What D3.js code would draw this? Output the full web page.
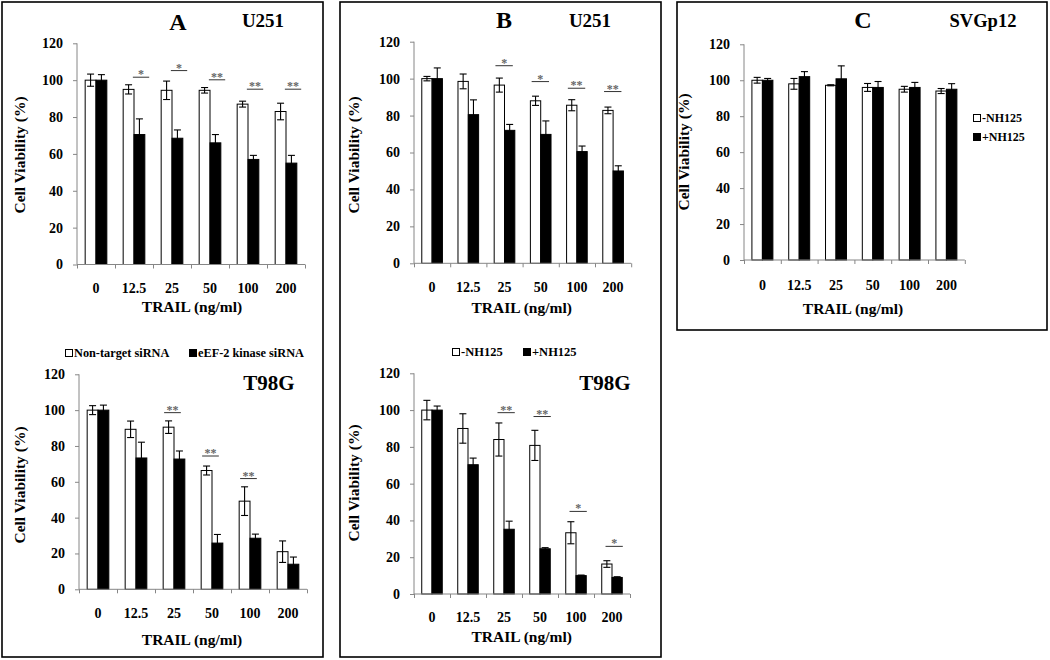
<!DOCTYPE html>
<html>
<head>
<meta charset="utf-8">
<script src="https://cdn.jsdelivr.net/npm/d3@7"></script>
<style>
  html, body { margin: 0; padding: 0; background: #fff; }
  svg { display: block; }
  text { font-family: "Liberation Serif", "Times New Roman", serif; font-weight: bold; }
</style>
</head>
<body>
<svg id="chart" width="1050" height="660"></svg>
<script>
// ---------------- DATA ----------------
const categories = ["0", "12.5", "25", "50", "100", "200"];
const yTickValues = [0, 20, 40, 60, 80, 100, 120];
const xAxisTitle = "TRAIL (ng/ml)";
const yAxisTitle = "Cell Viability (%)";

// Panel A, U251 (siRNA)
const aU251Ctrl    = [100, 95, 94.5, 94.5, 87, 83];
const aU251CtrlErr = [3.3, 2.5, 5, 1.5, 1.6, 4.5];
const aU251Kd      = [100, 70.5, 68.5, 66, 57, 55];
const aU251KdErr   = [3, 8.5, 4.5, 4.5, 2.2, 4.2];
const aU251SigCat  = ["12.5", "25", "50", "100", "200"];
const aU251SigY    = [101.6, 105.2, 100.2, 95.1, 95.1];
const aU251SigText = ["*", "*", "**", "**", "**"];

// Panel A, T98G (siRNA)
const aT98GCtrl    = [100, 89.3, 90.5, 66.3, 49.2, 21];
const aT98GCtrlErr = [2.5, 4.6, 3.5, 2.5, 8, 6];
const aT98GKd      = [100, 73.3, 72.7, 25.8, 28.5, 14];
const aT98GKdErr   = [2.8, 8.8, 4.5, 4.8, 2.3, 4];
const aT98GSigCat  = ["25", "50", "100"];
const aT98GSigY    = [98.6, 74.4, 61.8];
const aT98GSigText = ["**", "**", "**"];
const siRnaLegend  = ["Non-target siRNA", "eEF-2 kinase  siRNA"];

// Panel B, U251 (NH125)
const bU251Ctrl    = [100, 98.5, 96.5, 88, 85.6, 82.8];
const bU251CtrlErr = [1.2, 4, 3.8, 2.5, 3, 1.8];
const bU251Kd      = [100, 80.5, 72, 69.8, 60.5, 50];
const bU251KdErr   = [5.8, 8, 3.2, 7.3, 3, 2.8];
const bU251SigCat  = ["25", "50", "100", "200"];
const bU251SigY    = [107, 98.4, 94.8, 93];
const bU251SigText = ["*", "*", "**", "**"];

// Panel B, T98G (NH125)
const bT98GCtrl    = [100, 90, 84, 80.8, 33.3, 16.3];
const bT98GCtrlErr = [5.3, 8, 9, 8.2, 6, 1.8];
const bT98GKd      = [100, 70.3, 35.2, 24.6, 10, 9];
const bT98GKdErr   = [2.2, 3.6, 4.4, 0.6, 0.3, 0.4];
const bT98GSigCat  = ["25", "50", "100", "200"];
const bT98GSigY    = [98.6, 96.5, 44.9, 25.9];
const bT98GSigText = ["**", "**", "*", "*"];
const nh125Legend  = ["-NH125", "+NH125"];

// Panel C, SVGp12 (NH125)
const cSvgCtrl    = [100, 98, 97.2, 96, 95, 94];
const cSvgCtrlErr = [1.6, 3, 0.3, 2.2, 1.6, 1.4];
const cSvgKd      = [100, 102, 100.8, 96, 96, 95];
const cSvgKdErr   = [1, 2.8, 7.2, 3.3, 2.8, 3.1];

// ---------------- LAYOUT ----------------
const svg = d3.select("#chart");

const frames = [
  {x: 2, y: 2, w: 321, h: 655},
  {x: 340, y: 2, w: 321, h: 655},
  {x: 677, y: 2, w: 370, h: 328}
];
svg.selectAll("rect.frame").data(frames).join("rect")
  .attr("class", "frame")
  .attr("x", d => d.x).attr("y", d => d.y)
  .attr("width", d => d.w).attr("height", d => d.h)
  .attr("fill", "none").attr("stroke", "#000").attr("stroke-width", 1.6);

const charts = [
  { x0: 77, step: 38, yBot: 264.5, yTop: 43.3, ctrl: aU251Ctrl, ctrlErr: aU251CtrlErr, kd: aU251Kd, kdErr: aU251KdErr,
    sigCat: aU251SigCat, sigY: aU251SigY, sigText: aU251SigText, sigL: -0.03, sigR: 0.4,
    tickY: 293, titleX: 192, titleY: 312, yTitleX: 19.5, yTitleY: 155,
    labels: [{t: "A", x: 178, y: 30, s: 24}, {t: "U251", x: 263, y: 27, s: 19}] },
  { x0: 79, step: 38, yBot: 589.3, yTop: 374.3, ctrl: aT98GCtrl, ctrlErr: aT98GCtrlErr, kd: aT98GKd, kdErr: aT98GKdErr,
    sigCat: aT98GSigCat, sigY: aT98GSigY, sigText: aT98GSigText, sigL: -0.26, sigR: 0.18,
    tickY: 618, titleX: 192, titleY: 645, yTitleX: 19.5, yTitleY: 485,
    labels: [{t: "T98G", x: 269, y: 390, s: 21}],
    legend: {names: siRnaLegend, items: [{x: 65, y: 353}, {x: 189, y: 353}], size: 12.3} },
  { x0: 414, step: 36.2, yBot: 263.3, yTop: 41.7, ctrl: bU251Ctrl, ctrlErr: bU251CtrlErr, kd: bU251Kd, kdErr: bU251KdErr,
    sigCat: bU251SigCat, sigY: bU251SigY, sigText: bU251SigText, sigL: -0.25, sigR: 0.23,
    tickY: 291.5, titleX: 521.7, titleY: 313, yTitleX: 353.5, yTitleY: 155,
    labels: [{t: "B", x: 504, y: 28, s: 24}, {t: "U251", x: 590, y: 27, s: 19}] },
  { x0: 414, step: 36, yBot: 594, yTop: 373.3, ctrl: bT98GCtrl, ctrlErr: bT98GCtrlErr, kd: bT98GKd, kdErr: bT98GKdErr,
    sigCat: bT98GSigCat, sigY: bT98GSigY, sigText: bT98GSigText, sigL: -0.18, sigR: 0.3,
    tickY: 621.5, titleX: 521.7, titleY: 642, yTitleX: 353.5, yTitleY: 483,
    labels: [{t: "T98G", x: 605, y: 390, s: 21}],
    legend: {names: nh125Legend, items: [{x: 452, y: 352}, {x: 523, y: 352}], size: 12.5} },
  { x0: 744, step: 36.8, yBot: 260, yTop: 44.3, ctrl: cSvgCtrl, ctrlErr: cSvgCtrlErr, kd: cSvgKd, kdErr: cSvgKdErr,
    sigCat: [], sigY: [], sigText: [], sigL: 0, sigR: 0,
    tickY: 290, titleX: 853, titleY: 314, yTitleX: 683.5, yTitleY: 152,
    labels: [{t: "C", x: 863, y: 28, s: 24}, {t: "SVGp12", x: 983, y: 27, s: 18.5}],
    legend: {names: nh125Legend, items: [{x: 973, y: 118}, {x: 973, y: 137}], size: 12} }
];

const axisColor = "#868686";
const barFrac = 0.285;

charts.forEach(c => {
  const g = svg.append("g");
  const x1 = c.x0 + c.step * categories.length;
  const x = d3.scaleBand().domain(categories).range([c.x0, x1]).padding(0);
  const y = d3.scaleLinear().domain([0, 120]).range([c.yBot, c.yTop]);
  const bw = x.bandwidth() * barFrac;
  const cx = cat => x(cat) + x.bandwidth() / 2;

  const rows = categories.map((cat, i) => ({cat, ctrl: c.ctrl[i], ctrlErr: c.ctrlErr[i], kd: c.kd[i], kdErr: c.kdErr[i]}));
  g.selectAll("rect.ctrl").data(rows).join("rect")
    .attr("x", d => cx(d.cat) - bw).attr("y", d => y(d.ctrl))
    .attr("width", bw).attr("height", d => y(0) - y(d.ctrl))
    .attr("fill", "#fff").attr("stroke", "#000").attr("stroke-width", 1);
  g.selectAll("rect.kd").data(rows).join("rect")
    .attr("x", d => cx(d.cat)).attr("y", d => y(d.kd))
    .attr("width", bw).attr("height", d => y(0) - y(d.kd))
    .attr("fill", "#000").attr("stroke", "#000").attr("stroke-width", 1);

  const errs = [];
  rows.forEach(d => {
    errs.push({xc: cx(d.cat) - bw / 2, v: d.ctrl, e: d.ctrlErr});
    errs.push({xc: cx(d.cat) + bw / 2, v: d.kd, e: d.kdErr});
  });
  const cap = 3.5;
  errs.forEach(d => {
    const eg = g.append("g").attr("stroke", "#000").attr("stroke-width", 1.1);
    eg.append("line").attr("x1", d.xc).attr("x2", d.xc).attr("y1", y(d.v + d.e)).attr("y2", y(d.v - d.e));
    eg.append("line").attr("x1", d.xc - cap).attr("x2", d.xc + cap).attr("y1", y(d.v + d.e)).attr("y2", y(d.v + d.e));
    eg.append("line").attr("x1", d.xc - cap).attr("x2", d.xc + cap).attr("y1", y(d.v - d.e)).attr("y2", y(d.v - d.e));
  });

  const yAxis = d3.axisLeft(y).tickValues(yTickValues).tickSize(4).tickPadding(10);
  const ya = g.append("g").attr("transform", `translate(${c.x0},0)`).call(yAxis);
  ya.select(".domain").attr("stroke", axisColor).attr("d", `M-0,${c.yTop}V${c.yBot}`);
  ya.selectAll(".tick line").attr("stroke", axisColor);
  ya.selectAll(".tick text").attr("fill", "#000").style("font-size", "14px");

  const xb = d3.scaleLinear().domain([0, categories.length]).range([c.x0, x1]);
  const xAxis = d3.axisBottom(xb).tickValues(d3.range(categories.length + 1)).tickSize(4).tickFormat("");
  const xa = g.append("g").attr("transform", `translate(0,${c.yBot})`).call(xAxis);
  xa.select(".domain").attr("stroke", axisColor).attr("d", `M${c.x0},0H${x1}`);
  xa.selectAll(".tick line").attr("stroke", axisColor);

  g.selectAll("text.xl").data(categories).join("text")
    .attr("x", d => cx(d)).attr("y", c.tickY)
    .attr("text-anchor", "middle").style("font-size", "14px").text(d => d);

  g.append("text").attr("x", c.titleX).attr("y", c.titleY)
    .attr("text-anchor", "middle").style("font-size", "15.5px").text(xAxisTitle);
  g.append("text")
    .attr("transform", `translate(${c.yTitleX},${c.yTitleY}) rotate(-90)`)
    .attr("text-anchor", "middle").attr("dominant-baseline", "central")
    .style("font-size", "15.5px").text(yAxisTitle);

  c.sigCat.forEach((cat, i) => {
    const xc = cx(cat);
    const yy = y(c.sigY[i]);
    g.append("line").attr("x1", xc + c.sigL * c.step).attr("x2", xc + c.sigR * c.step)
      .attr("y1", yy).attr("y2", yy).attr("stroke", "#333").attr("stroke-width", 1);
    g.append("text").attr("x", xc + (c.sigL + c.sigR) / 2 * c.step).attr("y", yy + 1)
      .attr("text-anchor", "middle").attr("fill", "#666").style("font-size", "12px").text(c.sigText[i]);
  });

  c.labels.forEach(l => {
    g.append("text").attr("x", l.x).attr("y", l.y).attr("text-anchor", "middle")
      .style("font-size", l.s + "px").text(l.t);
  });

  if (c.legend) {
    c.legend.items.forEach((it, i) => {
      g.append("rect").attr("x", it.x + 0.5).attr("y", it.y - 3.5).attr("width", 7).attr("height", 7)
        .attr("fill", i === 0 ? "#fff" : "#000").attr("stroke", "#000").attr("stroke-width", 1);
      g.append("text").attr("x", it.x + 9).attr("y", it.y).attr("dominant-baseline", "central")
        .style("font-size", c.legend.size + "px").text(c.legend.names[i]);
    });
  }
});
</script>
</body>
</html>
